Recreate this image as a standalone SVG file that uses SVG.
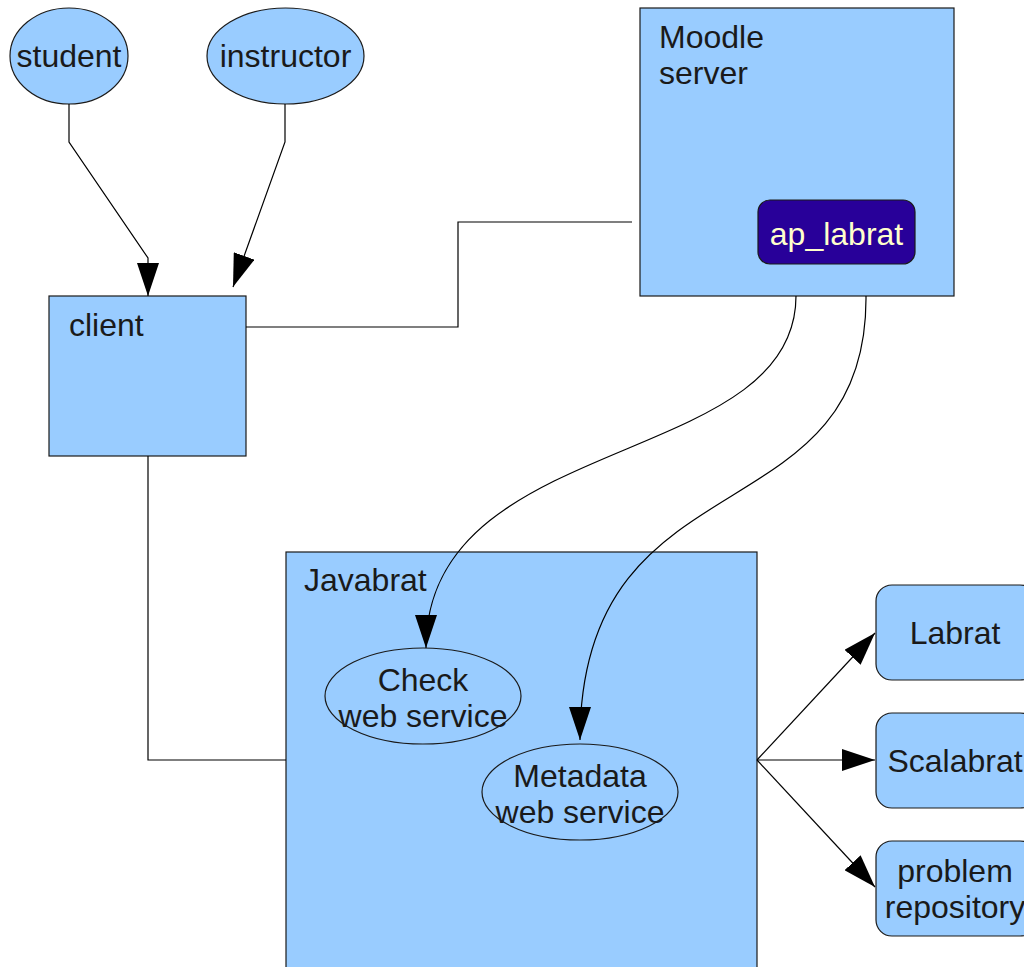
<svg xmlns="http://www.w3.org/2000/svg" width="1024" height="967" viewBox="0 0 1024 967">
<style>
.box{fill:#99ccff;stroke:#1a1a1a;stroke-width:1.2}
.t{font-family:"Liberation Sans",Arial,sans-serif;font-size:32px;fill:#1a1a1a}
.c{text-anchor:middle}
.ln{fill:none;stroke:#000;stroke-width:1.2}
</style>
<defs>
<marker id="ah" markerUnits="userSpaceOnUse" markerWidth="34" markerHeight="22" refX="33" refY="11" orient="auto" viewBox="0 0 34 22">
<path d="M0,0 L33,11 L0,22 z" fill="#000"/>
</marker>
</defs>
<rect width="1024" height="967" fill="#fff"/>
<g id="javabrat">
<rect class="box" x="286" y="552" width="471" height="420"/>
<text class="t" x="304" y="591">Javabrat</text>
</g>
<g id="moodle">
<rect class="box" x="640" y="8" width="314" height="288"/>
<text class="t" x="659" y="48">Moodle</text>
<text class="t" x="659" y="84">server</text>
</g>
<g id="ap_labrat">
<rect x="758" y="200" width="157" height="64" rx="12" fill="#280099" stroke="#1a1a1a" stroke-width="1.2"/>
<text class="t c" x="836.5" y="245" style="fill:#ffffcc">ap_labrat</text>
</g>
<g id="student">
<ellipse class="box" cx="69" cy="56" rx="59" ry="48"/>
<text class="t c" x="69" y="67">student</text>
</g>
<g id="instructor">
<ellipse class="box" cx="285.5" cy="56" rx="78.5" ry="48"/>
<text class="t c" x="285.5" y="67">instructor</text>
</g>
<g id="client">
<rect class="box" x="49" y="296" width="197" height="160"/>
<text class="t" x="69" y="336">client</text>
</g>
<g id="check">
<ellipse class="box" cx="423" cy="696" rx="98" ry="48"/>
<text class="t c" x="423" y="691">Check</text>
<text class="t c" x="423" y="727">web service</text>
</g>
<g id="metadata">
<ellipse class="box" cx="580" cy="792" rx="98" ry="48"/>
<text class="t c" x="580" y="787">Metadata</text>
<text class="t c" x="580" y="823">web service</text>
</g>
<g id="labrat">
<rect class="box" x="876" y="585" width="160" height="95" rx="16"/>
<text class="t c" x="955" y="644">Labrat</text>
</g>
<g id="scalabrat">
<rect class="box" x="876" y="713" width="160" height="95" rx="16"/>
<text class="t c" x="955" y="772">Scalabrat</text>
</g>
<g id="problem_repository">
<rect class="box" x="876" y="841" width="160" height="95" rx="16"/>
<text class="t c" x="955" y="882">problem</text>
<text class="t c" x="955" y="918">repository</text>
</g>
<g id="connectors">
<polyline class="ln" points="69,104 69,142 148,258 148,296" marker-end="url(#ah)"/>
<polyline class="ln" points="285,104 285,142 233,287" marker-end="url(#ah)"/>
<polyline class="ln" points="246,327 458,327 458,222 632,222"/>
<polyline class="ln" points="148,456 148,760 286,760"/>
<path class="ln" d="M796,296 C796,470 426,430 426,648" marker-end="url(#ah)"/>
<path class="ln" d="M866,296 C868,540 580,450 580,740" marker-end="url(#ah)"/>
<line class="ln" x1="757" y1="760" x2="875" y2="633" marker-end="url(#ah)"/>
<line class="ln" x1="757" y1="760" x2="875" y2="760" marker-end="url(#ah)"/>
<line class="ln" x1="757" y1="760" x2="875" y2="887" marker-end="url(#ah)"/>
</g>
</svg>
